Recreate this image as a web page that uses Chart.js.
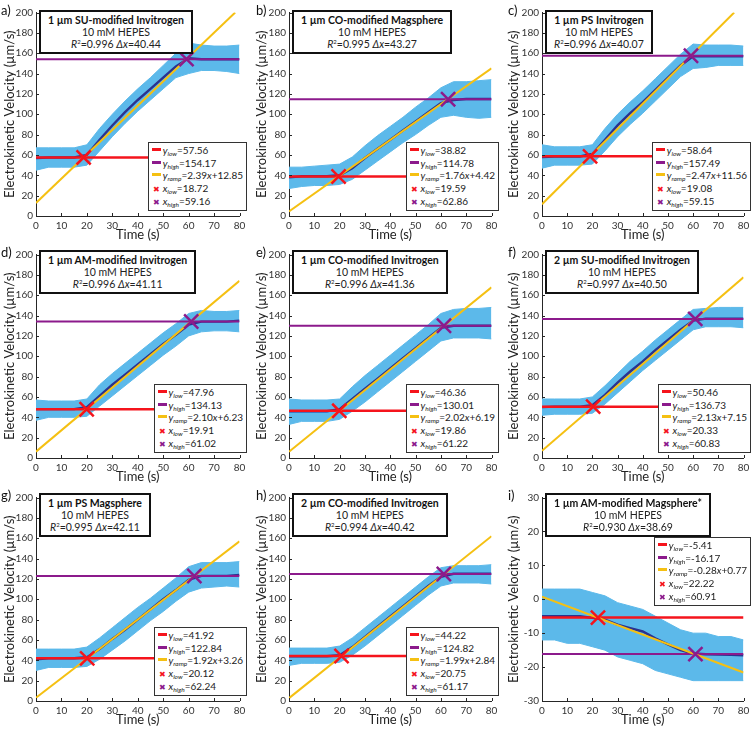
<!DOCTYPE html>
<html>
<head>
<meta charset="utf-8">
<script src="https://cdn.jsdelivr.net/npm/chart.js@4.4.1/dist/chart.umd.min.js"></script>
<style>
  html,body{margin:0;padding:0;background:#fff;}
  #wrap{position:relative;width:756px;height:729px;background:#fff;overflow:hidden;font-family:Lato,"Liberation Sans",sans-serif;}
  .panel{position:absolute;width:252px;height:243px;}
  .panel canvas{position:absolute;left:0;top:0;}
  .letter{position:absolute;font-size:13px;color:#111;line-height:14px;}
  .tbox{position:absolute;background:#fff;border:2.5px solid #111;text-align:center;font-size:10.5px;line-height:12px;padding:2px 7px 2px 7px;color:#222;white-space:nowrap;}
  .tbox b{font-weight:bold;color:#111;}
  .tbox sup{font-size:6px;vertical-align:4px;line-height:0;}
  .lbox{position:absolute;background:#fff;border:1px solid #333;font-size:10px;line-height:12.6px;padding:1px 3px 1px 3px;color:#222;white-space:nowrap;}
  .lbox sub{font-size:6.5px;vertical-align:-2px;line-height:0;font-style:italic;}
  .sw{display:inline-block;width:9px;height:3px;vertical-align:3px;margin-right:2px;}
  .mk{display:inline-block;width:9px;font-size:8px;margin-right:2px;text-align:center;}
</style>
</head>
<body>
<div id="wrap"></div>
<script>
// ---------- data ----------
const T = [0,5,10,15,20,25,30,35,40,45,50,55,60,65,70,75,80];

const midA = [57,57.5,57.5,57.5,60,75,89,102,114,125,136,147,155,154,154,154,154];
const loA  = [45,48,48,48,50,64,78,91,103,114,125,136,140,143,143,142,140];
const hiA  = [67,67,67,67,70,86,100,113,125,136,148,160,170,168,167,167,168];

const midB = [38,39,39,39,40,47,57,66,75,84,93,102,111,114,115,115,115];
const loB  = [27,29,30,30,31,36,45,54,63,72,80,89,97,99,97,96,97];
const hiB  = [48,48,49,50,51,58,69,79,88,97,107,116,126,132,132,133,134];

const midC = [58,58.5,58.5,58.5,61,75,89,101,112,124,136,148,157,157,157,157,157];
const loC  = [47,50,50,50,51,64,78,90,101,113,125,137,145,146,148,148,148];
const hiC  = [70,68,68,68,70,86,100,112,123,135,147,159,169,168,168,168,167];

const midD = [48,48,48,48,50,61,72,82,92,102,112,121,131,134,134,134,135];
const loD  = [37,40,40,40,41,51,61,71,81,91,101,110,120,124,125,125,124];
const hiD  = [57,56,56,56,58,72,83,93,103,113,123,132,142,145,144,144,145];

const midE = [46,46,46,46,48,58,68,78,88,98,108,118,128,130,130,130,130];
const loE  = [33,36,36,36,38,46,55,65,75,85,95,105,115,118,118,118,117];
const hiE  = [58,57,57,57,58,70,81,91,101,111,121,131,142,146,147,147,148];

const midF = [50,50.5,50.5,50.5,52,62,74,85,95,106,116,126,135,137,137,137,137];
const loF  = [42,43,43,43,44,53,64,75,86,96,106,116,126,129,129,129,128];
const hiF  = [58,58,58,58,60,71,83,95,105,116,126,136,146,147,148,148,148];

const midG = [41,42,42,42,43,51,61,70,80,90,100,109,119,123,123,123,124];
const loG  = [30,33,33,33,34,41,50,59,69,79,88,98,107,111,112,113,112];
const hiG  = [51,51,51,51,53,62,72,82,92,101,111,121,132,136,136,136,137];

const midH = [44,44,44,44,45,53,63,73,83,93,103,113,122,125,125,125,125];
const loH  = [35,37,37,37,38,45,54,64,74,84,94,104,113,116,116,116,115];
const hiH  = [52,52,52,52,54,62,72,82,92,102,112,122,131,133,133,133,134];

const midI = [-5,-5,-5,-5,-5.5,-6,-7.5,-8.5,-9.5,-11.5,-13.3,-15,-16,-16.2,-16.3,-16.4,-16.5];
const loI  = [-12,-12,-13,-13,-14,-15,-17,-18,-19,-21,-22,-23,-24,-24,-24,-24,-24];
const hiI  = [3,3,3,3,2,1,-1,-2,-3,-5,-7,-9,-10,-10,-11,-11,-12];

const letters = ['a)','b)','c)','d)','e)','f)','g)','h)','i)'];
const titles = ['1 µm SU-modified Invitrogen','1 µm CO-modified Magsphere','1 µm PS Invitrogen',
  '1 µm AM-modified Invitrogen','1 µm CO-modified Invitrogen','2 µm SU-modified Invitrogen',
  '1 µm PS Magsphere','2 µm CO-modified Invitrogen','1 µm AM-modified Magsphere*'];
const r2Vals = ['0.996','0.995','0.996','0.996','0.996','0.997','0.995','0.994','0.930'];
const dxVals = ['40.44','43.27','40.07','41.11','41.36','40.50','42.11','40.42','38.69'];
const yLow  = [57.56,38.82,58.64,47.96,46.36,50.46,41.92,44.22,-5.41];
const yHigh = [154.17,114.78,157.49,134.13,130.01,136.73,122.84,124.82,-16.17];
const xLow  = [18.72,19.59,19.08,19.91,19.86,20.33,20.12,20.75,22.22];
const xHigh = [59.16,62.86,59.15,61.02,61.22,60.83,62.24,61.17,60.91];
const rampText = ['2.39x+12.85','1.76x+4.42','2.47x+11.56','2.10x+6.23','2.02x+6.19','2.13x+7.15','1.92x+3.26','1.99x+2.84','-0.28x+0.77'];
// ramp fit line end points (x0,y0) -> (x1,y1)
const rampX1 = [78.3,80,76.3,80,80,80,80,80,80];
const rampY0 = [12.85,4.42,11.56,6.23,6.19,7.15,3.26,2.84,0.77];
const rampY1 = [200,145.2,200,174.2,167.8,177.6,156.9,162.0,-21.6];
const yTicksMain = [0,200,20];
const yTicksNeg  = [-30,30,10];

const mids = [midA,midB,midC,midD,midE,midF,midG,midH,midI];
const los  = [loA,loB,loC,loD,loE,loF,loG,loH,loI];
const his  = [hiA,hiB,hiC,hiD,hiE,hiF,hiG,hiH,hiI];

// ---------- styles ----------
const C_BAND = '#5cb9ea', C_NAVY = '#2b338f', C_RED = '#f5141c', C_PURP = '#8c1a8c', C_YEL = '#f5c012';
const colLeft = [0,252,504], rowTop = [0,242,485];
const plotL = [36,37,38], plotR = [7,7,6];

Chart.defaults.font.family = 'Lato, "Liberation Sans", sans-serif';
Chart.defaults.color = '#333';

const innerTicks = {
  id:'innerTicks',
  afterDraw(chart){
    const {ctx, chartArea:a, scales:{x,y}} = chart;
    ctx.save(); ctx.strokeStyle='#262626'; ctx.lineWidth=1;
    x.ticks.forEach(t=>{const p=Math.round(x.getPixelForValue(t.value))+0.5; ctx.beginPath(); ctx.moveTo(p,a.bottom); ctx.lineTo(p,a.bottom-3); ctx.stroke();});
    y.ticks.forEach(t=>{const p=Math.round(y.getPixelForValue(t.value))+0.5; ctx.beginPath(); ctx.moveTo(a.left,p); ctx.lineTo(a.left+3,p); ctx.stroke();});
    ctx.restore();
  }
};

const wrap = document.getElementById('wrap');
for (let k=0;k<9;k++){
  const col = k%3, row = Math.floor(k/3);
  const panel = document.createElement('div');
  panel.className='panel';
  panel.style.left = colLeft[col]+'px'; panel.style.top = rowTop[row]+'px';
  wrap.appendChild(panel);
  const cv = document.createElement('canvas');
  cv.width=252; cv.height=243; cv.style.width='252px'; cv.style.height='243px';
  panel.appendChild(cv);

  const pts = arr => T.map((t,i)=>({x:t,y:arr[i]}));
  const neg = (k===8);
  const yr = neg ? yTicksNeg : yTicksMain;
  const lineDs = (data,color,w,order)=>({data,borderColor:color,backgroundColor:color,borderWidth:w,pointRadius:0,fill:false,order,tension:0});

  new Chart(cv,{
    type:'line',
    data:{datasets:[
      {data:[{x:xLow[k],y:yLow[k]}],showLine:false,pointStyle:'crossRot',pointRadius:10,pointBorderWidth:2.5,borderColor:C_RED,backgroundColor:C_RED,order:0},
      {data:[{x:xHigh[k],y:yHigh[k]}],showLine:false,pointStyle:'crossRot',pointRadius:10,pointBorderWidth:2.5,borderColor:C_PURP,backgroundColor:C_PURP,order:0},
      lineDs([{x:0,y:rampY0[k]},{x:rampX1[k],y:rampY1[k]}],C_YEL,2,1),
      lineDs([{x:0,y:yHigh[k]},{x:80,y:yHigh[k]}],C_PURP,2,2),
      lineDs([{x:0,y:yLow[k]},{x:80,y:yLow[k]}],C_RED,2.5,3),
      lineDs(pts(mids[k]),C_NAVY,2.4,4),
      {data:pts(his[k]),borderColor:C_BAND,backgroundColor:C_BAND,borderWidth:1,pointRadius:0,fill:'+1',order:5,tension:0},
      {data:pts(los[k]),borderColor:C_BAND,backgroundColor:C_BAND,borderWidth:1,pointRadius:0,fill:false,order:6,tension:0}
    ]},
    options:{
      responsive:false,animation:false,
      layout:{padding:{left:0,right:plotR[col],top:9,bottom:0}},
      plugins:{legend:{display:false},tooltip:{enabled:false}},
      scales:{
        x:{type:'linear',min:0,max:80,
           ticks:{stepSize:10,autoSkip:false,maxRotation:0,padding:4,font:{size:10},color:'#333'},
           grid:{display:true,drawOnChartArea:false,drawTicks:false},
           border:{display:true,color:'#262626',width:1},
           title:{display:true,text:'Time (s)',font:{size:13},color:'#222',padding:{top:0,bottom:0}},
           afterFit(s){s.height=27;}},
        y:{type:'linear',min:yr[0],max:yr[1],
           ticks:{stepSize:yr[2],padding:3,font:{size:10},color:'#333'},
           grid:{display:true,drawOnChartArea:false,drawTicks:false},
           border:{display:true,color:'#262626',width:1},
           title:{display:true,text:'Electrokinetic Velocity (µm/s)',font:{size:13},color:'#222',padding:{top:2,bottom:0}},
           afterFit(s){s.width=plotL[col];}}
      }
    },
    plugins:[innerTicks]
  });

  const let_ = document.createElement('div');
  let_.className='letter'; let_.textContent=letters[k];
  let_.style.left = (col===0?1:4)+'px'; let_.style.top='3px';
  panel.appendChild(let_);

  const tb = document.createElement('div');
  tb.className='tbox';
  tb.style.left=(plotL[col]+3)+'px'; tb.style.top=(row===0?10:8)+'px';
  tb.innerHTML = '<b>'+titles[k]+'</b><br>10 mM HEPES<br><i>R</i><sup>2</sup>='+r2Vals[k]+' <i>Δx</i>='+dxVals[k];
  panel.appendChild(tb);

  const lb = document.createElement('div');
  lb.className='lbox';
  lb.style.right='5px';
  if (neg) lb.style.top='52px'; else lb.style.bottom='32px';
  const rt = rampText[k].replace('x','<i>x</i>');
  lb.innerHTML =
    '<div><span class="sw" style="background:'+C_RED+'"></span><i>y</i><sub>low</sub>='+yLow[k].toFixed(2)+'</div>'+
    '<div><span class="sw" style="background:'+C_PURP+'"></span><i>y</i><sub>high</sub>='+yHigh[k].toFixed(2)+'</div>'+
    '<div><span class="sw" style="background:'+C_YEL+'"></span><i>y</i><sub>ramp</sub>='+rt+'</div>'+
    '<div><span class="mk" style="color:'+C_RED+'">✖</span><i>x</i><sub>low</sub>='+xLow[k].toFixed(2)+'</div>'+
    '<div><span class="mk" style="color:'+C_PURP+'">✖</span><i>x</i><sub>high</sub>='+xHigh[k].toFixed(2)+'</div>';
  panel.appendChild(lb);
}
</script>
</body>
</html>
